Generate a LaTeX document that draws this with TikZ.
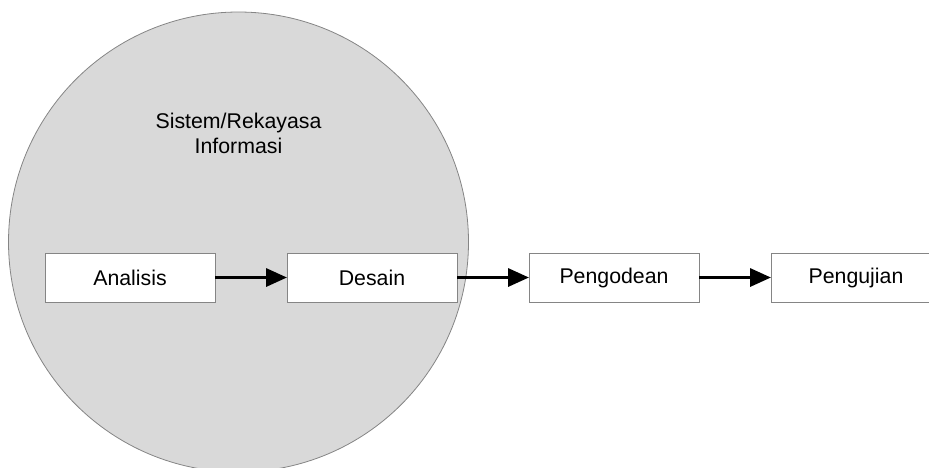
\documentclass[tikz,border=0pt]{standalone}
\usepackage{fontspec}
\setmainfont{Liberation Sans}
\usetikzlibrary{positioning,arrows.meta}
\definecolor{bubblegray}{HTML}{D9D9D9}
\definecolor{edgegray}{HTML}{858585}

\tikzset{
  stage/.style={draw=edgegray,fill=white,line width=.8pt,minimum width=170pt,
    minimum height=49pt,inner sep=0pt,outer sep=0pt,
    font=\fontsize{21.3}{25}\selectfont},
  flow/.style={line width=3.3pt,-{Triangle[length=21pt,width=18pt]}}
}

\begin{document}
\begin{tikzpicture}[x=1pt,y=-1pt]
\useasboundingbox (0,0) rectangle (929,467);
\clip (0,0) rectangle (929,467);
% the big bubble round the first two stages
\draw[draw=edgegray,fill=bubblegray,line width=.8pt] (238.5,242) circle (230);
\node[align=center,font=\fontsize{21.3}{25}\selectfont] (sri) at (238.5,133)
     {Sistem/Rekayasa\\Informasi};

\node[stage] (analisis) at (130,277.5) {Analisis};
\node[stage,right=72pt of analisis] (desain) {Desain};
\node[stage,right=72pt of desain] (kode) {Pengodean};
\node[stage,right=72pt of kode] (uji) {Pengujian};

\draw[flow] (analisis) -- (desain);
\draw[flow] (desain) -- (kode);
\draw[flow] (kode) -- (uji);
\end{tikzpicture}
\end{document}
